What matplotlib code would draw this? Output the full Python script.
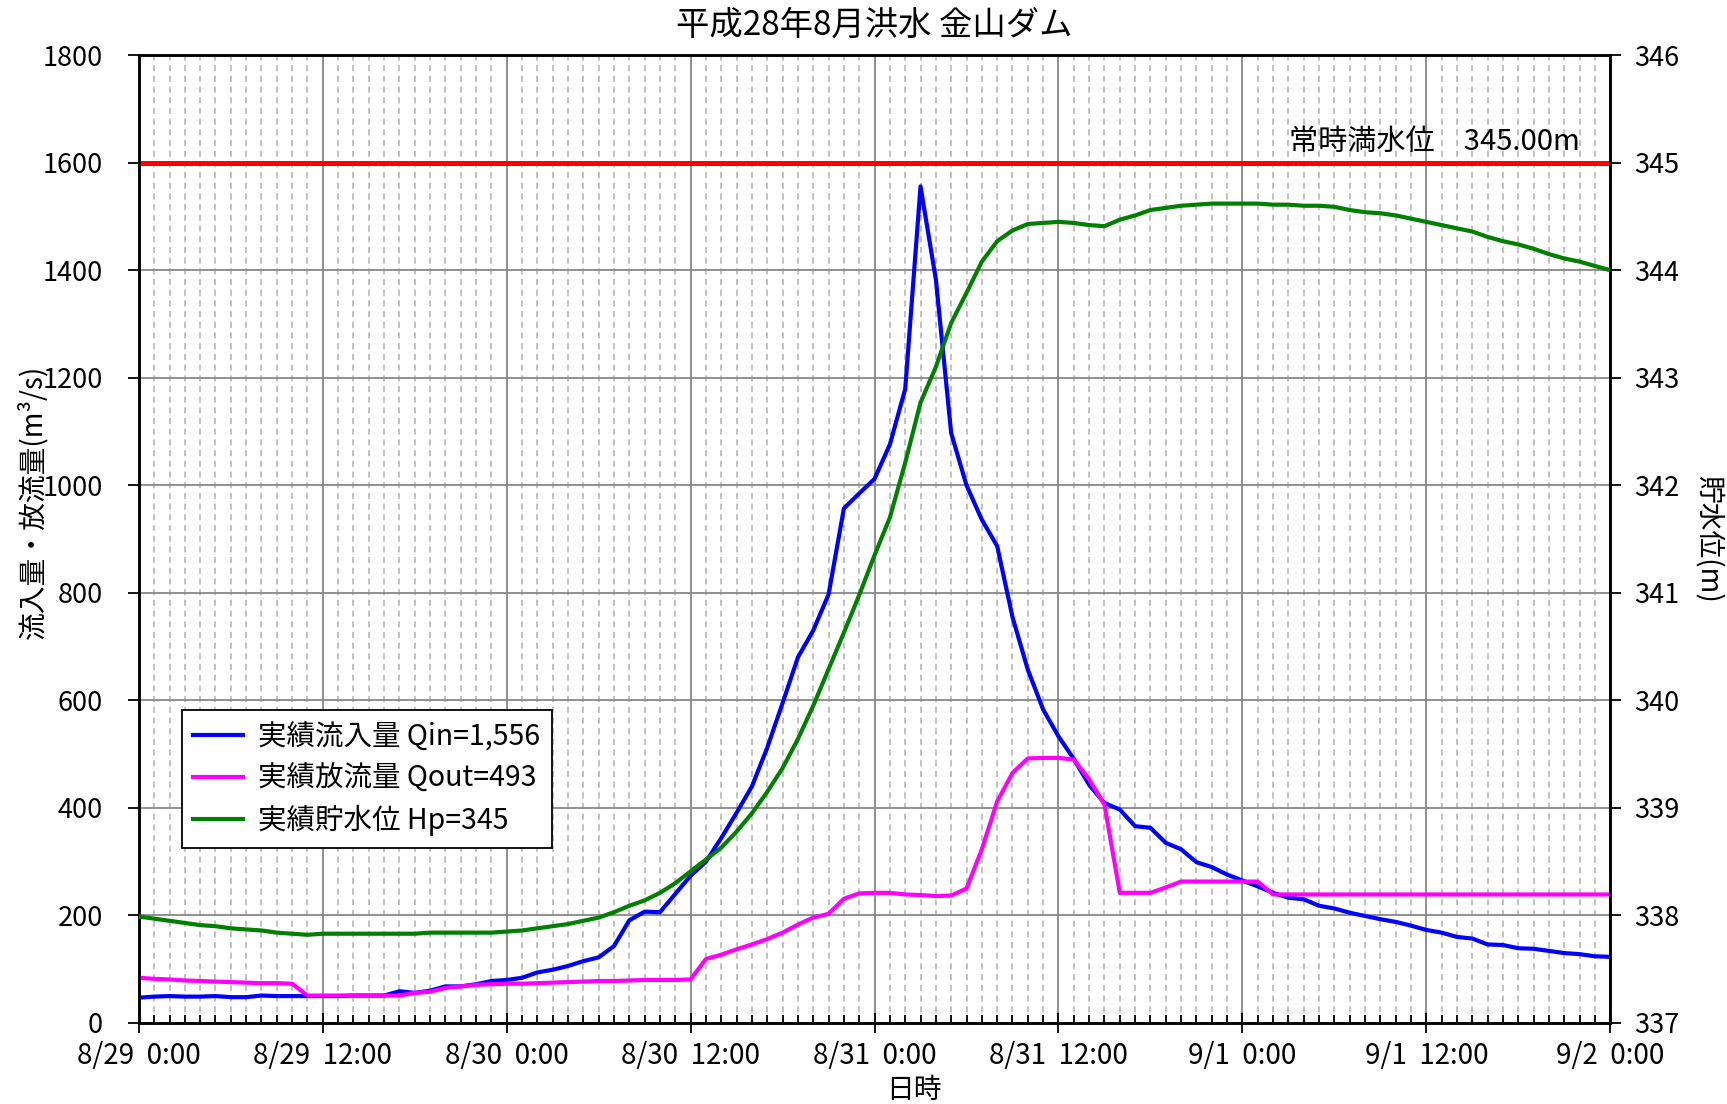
import matplotlib
matplotlib.use("Agg")
import matplotlib.pyplot as plt
import numpy as np
from matplotlib.ticker import MultipleLocator

plt.rcParams['font.family'] = ['Noto Sans CJK JP', 'DejaVu Sans']

# 8/29 0:00 から 9/2 0:00 までの毎時データ (97点)
hours = np.arange(0, 97)

# 実績流入量 (m3/s)
q_in = [47, 49, 50, 49, 49, 50, 48, 48, 51, 50, 50, 50, 50, 50, 51, 51, 51, 59, 56, 60,
        68, 68, 72, 78, 80, 84, 94, 99, 106, 115, 122, 143, 191, 207, 206, 240, 274, 300, 344, 391,
        440, 512, 595, 680, 730, 797, 957, 985, 1012, 1076, 1179, 1556, 1383, 1097, 1000, 936, 887, 755, 657, 583,
        533, 491, 443, 409, 397, 366, 363, 335, 323, 299, 290, 276, 265, 254, 242, 233, 230, 218, 213, 205,
        199, 193, 188, 181, 173, 168, 160, 157, 146, 145, 139, 138, 134, 130, 128, 124, 123]

# 実績放流量 (m3/s)
q_out = [84, 82, 81, 79, 78, 77, 76, 75, 74, 74, 73, 51, 51, 51, 51, 51, 51, 51, 56, 58,
         65, 68, 71, 72, 73, 73, 74, 75, 76, 77, 78, 78, 79, 80, 80, 80, 81, 119, 127, 137,
         146, 156, 168, 183, 196, 203, 231, 241, 242, 242, 239, 238, 236, 237, 250, 323, 412, 465, 492, 493,
         493, 490, 453, 406, 242, 242, 242, 252, 263, 263, 263, 263, 263, 263, 239, 239, 239, 239, 239, 239,
         239, 239, 239, 239, 239, 239, 239, 239, 239, 239, 239, 239, 239, 239, 239, 239, 239]

# 実績貯水位 (m)
h_p = [337.99, 337.97, 337.95, 337.93, 337.91, 337.90, 337.88, 337.87, 337.86, 337.84,
       337.83, 337.82, 337.83, 337.83, 337.83, 337.83, 337.83, 337.83, 337.83, 337.84,
       337.84, 337.84, 337.84, 337.84, 337.85, 337.86, 337.88, 337.90, 337.92, 337.95,
       337.98, 338.03, 338.09, 338.14, 338.21, 338.30, 338.41, 338.52, 338.63, 338.78,
       338.95, 339.15, 339.37, 339.64, 339.95, 340.29, 340.63, 340.98, 341.35, 341.70,
       342.21, 342.77, 343.10, 343.51, 343.79, 344.08, 344.27, 344.37, 344.43, 344.44,
       344.45, 344.44, 344.42, 344.41, 344.47, 344.51, 344.56, 344.58, 344.60, 344.61,
       344.62, 344.62, 344.62, 344.62, 344.61, 344.61, 344.60, 344.60, 344.59, 344.56,
       344.54, 344.53, 344.51, 344.48, 344.45, 344.42, 344.39, 344.36, 344.31, 344.27,
       344.24, 344.20, 344.15, 344.11, 344.08, 344.04, 344.00]

normal_level = 345.00
x_ticks = [0, 12, 24, 36, 48, 60, 72, 84, 96]
x_labels = ["8/29  0:00", "8/29  12:00", "8/30  0:00", "8/30  12:00", "8/31  0:00",
            "8/31  12:00", "9/1  0:00", "9/1  12:00", "9/2  0:00"]

fig = plt.figure(figsize=(17.27, 11.04), dpi=100)
ax = fig.add_subplot(111)
fig.subplots_adjust(left=0.0804, right=0.9324, top=0.950, bottom=0.0734)
ax2 = ax.twinx()

ax.set_xlim(0, 96)
ax.set_ylim(0, 1800)
ax2.set_ylim(337, 346)

# grid
ax.set_xticks(x_ticks)
ax.xaxis.set_minor_locator(MultipleLocator(1))
ax.yaxis.set_major_locator(MultipleLocator(200))
ax2.yaxis.set_major_locator(MultipleLocator(1))
ax.grid(which='minor', axis='x', color='#b0b0b0', linestyle=(0, (4, 3)), linewidth=1.1)
ax.grid(which='major', axis='x', color='#888888', linewidth=1.3)
ax.grid(which='major', axis='y', color='#888888', linewidth=1.3)
ax.set_axisbelow(True)

ax.set_xticklabels(x_labels, fontsize=20)
ax.tick_params(axis='x', which='major', direction='inout', length=14, width=1.3, pad=6)
ax.tick_params(axis='x', which='minor', direction='in', length=6, width=1.3)
ax.tick_params(axis='y', which='major', direction='out', length=8, width=1.3,
               labelsize=19.5, pad=18)
ax2.tick_params(axis='y', which='major', direction='out', length=8, width=1.3,
                labelsize=19.5, pad=9)

for a in (ax, ax2):
    for s in a.spines.values():
        s.set_linewidth(1.8)

# 常時満水位
ax2.axhline(normal_level, color='#ff0000', linewidth=3.6, zorder=2)
ax2.text(94.0, normal_level + 0.05, "常時満水位　345.00m", fontsize=21,
         ha='right', va='bottom')

l1, = ax.plot(hours, q_in, color='#0000ff', linewidth=3.0, label="実績流入量 Qin=1,556", zorder=3)
l2, = ax.plot(hours, q_out, color='#ff00ff', linewidth=3.0, label="実績放流量 Qout=493", zorder=3)
l3, = ax2.plot(hours, h_p, color='#008000', linewidth=3.0, label="実績貯水位 Hp=345", zorder=3)

ax.set_ylabel("流入量・放流量(m³/s)", fontsize=20, va='center')
ax.yaxis.set_label_coords(-0.072, 0.538)
ax2.set_ylabel("貯水位(m)", fontsize=20, rotation=-90, va='center')
ax2.yaxis.set_label_coords(1.066, 0.5)
ax.set_xlabel("日時", fontsize=20, va='center')
ax.xaxis.set_label_coords(0.527, -0.069)
ax.set_title("平成28年8月洪水 金山ダム", fontsize=24, pad=15)

leg = ax2.legend(handles=[l1, l2, l3], loc='upper left', bbox_to_anchor=(0.029, 0.323),
                 borderaxespad=0, fontsize=20.5, fancybox=False, framealpha=1,
                 edgecolor='black', handlelength=1.75, handletextpad=0.5,
                 labelspacing=0.4, borderpad=0.42)
leg.get_frame().set_linewidth(1.3)

fig.savefig("out.png", dpi=100)
